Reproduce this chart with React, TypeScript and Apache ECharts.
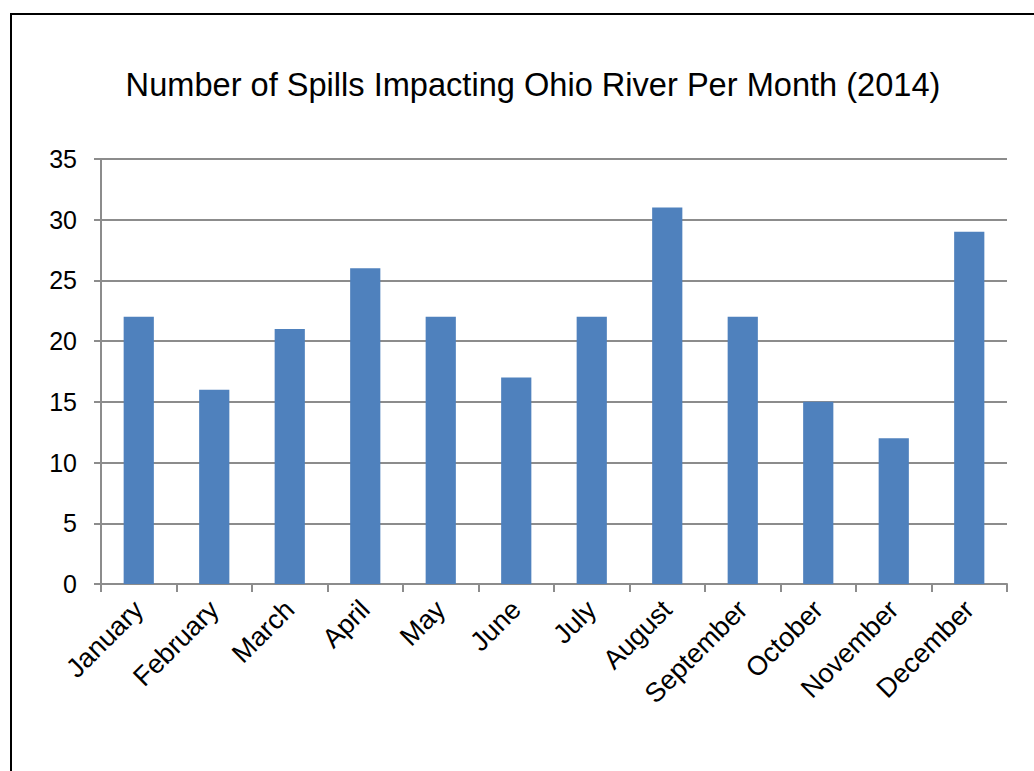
import React, { useEffect, useRef } from "react";
import * as echarts from "echarts";

const months = ["January", "February", "March", "April", "May", "June", "July", "August", "September", "October", "November", "December"];
const spills = [22, 16, 21, 26, 22, 17, 22, 31, 22, 15, 12, 29];
const titleText = "Number of Spills Impacting Ohio River Per Month (2014)";

export default function App() {
  const ref = useRef<HTMLDivElement>(null);
  useEffect(() => {
    if (!ref.current) return;
    const chart = echarts.init(ref.current, null, { renderer: "svg" });
    const font = "'Liberation Sans', Arial, sans-serif";
    chart.setOption({
      animation: false,
      backgroundColor: "#ffffff",
      title: {
        text: titleText,
        left: 528,
        textAlign: "center",
        top: 63,
        textStyle: { fontFamily: font, fontSize: 32.6, fontWeight: "normal", color: "#000000" },
      },
      graphic: [
        {
          type: "rect",
          shape: { x: 11, y: 14, width: 1100, height: 820 },
          style: { fill: "none", stroke: "#000000", lineWidth: 2 },
          silent: true,
        },
      ],
      grid: { left: 101, right: 27, top: 159, bottom: 187, containLabel: false },
      xAxis: {
        type: "category",
        data: months,
        axisLine: { lineStyle: { color: "#8c8c8c", width: 2 } },
        axisTick: { show: true, length: 8, alignWithLabel: false, lineStyle: { color: "#8c8c8c", width: 2 } },
        axisLabel: { rotate: 45, margin: 21, fontFamily: font, fontSize: 27, color: "#000000", interval: 0 },
      },
      yAxis: {
        type: "value",
        min: 0,
        max: 35,
        interval: 5,
        axisLine: { show: true, lineStyle: { color: "#8c8c8c", width: 2 } },
        axisTick: { show: true, length: 7, lineStyle: { color: "#8c8c8c", width: 2 } },
        splitLine: { show: true, lineStyle: { color: "#8c8c8c", width: 2 } },
        axisLabel: { margin: 24, fontFamily: font, fontSize: 25, color: "#000000" },
      },
      series: [
        {
          type: "bar",
          data: spills,
          barWidth: "40%",
          itemStyle: { color: "#4f81bd" },
        },
      ],
    });
    return () => chart.dispose();
  }, []);
  return <div ref={ref} style={{ position: "absolute", left: 0, top: 0, width: 1034, height: 771 }} />;
}
